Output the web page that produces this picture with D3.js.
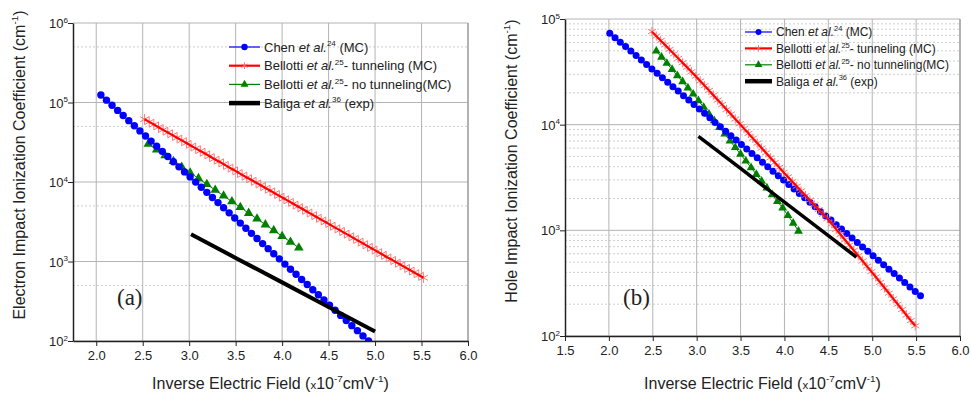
<!DOCTYPE html>
<html>
<head>
<meta charset="utf-8">
<script src="https://d3js.org/d3.v7.min.js"></script>
<style>
body{margin:0;background:#fff;}
svg text{font-family:"Liberation Sans",Arial,sans-serif;fill:#222;}
</style>
</head>
<body>
<svg id="chart" width="971" height="397"></svg>
<script>
// ---- panel (a): electrons ----
var chenA_x = [2.05,2.11,2.17,2.23,2.29,2.35,2.41,2.47,2.53,2.59,2.65,2.71,2.77,2.83,2.89,2.95,3.01,3.07,3.13,3.19,3.25,3.31,3.37,3.43,3.49,3.55,3.61,3.67,3.73,3.79,3.85,3.91,3.97,4.03,4.09,4.15,4.21,4.27,4.33,4.39,4.45,4.51,4.57,4.63,4.69,4.75,4.81,4.87,4.93]
var chenA_y = [124000,107000,92300,79600,68600,59100,51000,43900,37900,32700,28200,24300,20900,18000,15500,13400,11600,9970,8590,7410,6390,5510,4750,4090,3530,3040,2620,2260,1950,1680,1450,1250,1080,928,800,690,595,513,442,381,328,283,244,210,181,156,135,116,100]

var tunA_x = [2.52,2.57,2.62,2.67,2.72,2.77,2.82,2.87,2.92,2.97,3.02,3.07,3.12,3.17,3.22,3.27,3.32,3.37,3.42,3.47,3.52,3.57,3.62,3.67,3.72,3.77,3.82,3.87,3.92,3.97,4.02,4.07,4.12,4.17,4.22,4.27,4.32,4.37,4.42,4.47,4.52,4.57,4.62,4.67,4.72,4.77,4.82,4.87,4.92,4.97,5.02,5.07,5.12,5.17,5.22,5.27,5.32,5.37,5.42,5.47,5.52]
var tunA_y = [61500,57000,52800,48900,45300,42000,38900,36000,33400,30900,28600,26500,24600,22800,21100,19500,18100,16800,15500,14400,13300,12300,11400,10600,9810,9090,8420,7800,7230,6690,6200,5740,5320,4930,4570,4230,3920,3630,3360,3120,2890,2670,2480,2290,2130,1970,1820,1690,1560,1450,1340,1240,1150,1070,989,916,849,786,728,675,625]

var noTunA_x = [2.56,2.65,2.74,2.83,2.92,3.01,3.10,3.19,3.28,3.37,3.46,3.55,3.64,3.73,3.82,3.91,4.00,4.09,4.18]
var noTunA_y = [30100,25400,21500,18200,15400,13100,11100,9350,7910,6700,5670,4800,4060,3440,2910,2460,2080,1760,1490]

var baligaA_x = [3.02,3.5,4.0,4.5,5.0]
var baligaA_y = [2200,1110,546,268,132]

// ---- panel (b): holes ----
var chenB_x = [2.01,2.07,2.13,2.19,2.25,2.31,2.37,2.43,2.49,2.55,2.61,2.67,2.73,2.79,2.85,2.91,2.97,3.03,3.09,3.15,3.21,3.27,3.33,3.39,3.45,3.51,3.57,3.63,3.69,3.75,3.81,3.87,3.93,3.99,4.05,4.11,4.17,4.23,4.29,4.35,4.41,4.47,4.53,4.59,4.65,4.71,4.77,4.83,4.89,4.95,5.01,5.07,5.13,5.19,5.25,5.31,5.37,5.43,5.49,5.55]
var chenB_y = [73300,66500,60400,54800,49700,45100,41000,37200,33700,30600,27800,25200,22900,20800,18800,17100,15500,14100,12800,11600,10500,9560,8680,7870,7150,6490,5890,5340,4850,4400,3990,3630,3290,2990,2710,2460,2230,2030,1840,1670,1510,1370,1250,1130,1030,932,846,768,697,633,574,521,473,429,390,354,321,291,264,240]

var tunB_x = [2.49,2.54,2.59,2.64,2.69,2.74,2.79,2.84,2.89,2.94,2.99,3.04,3.09,3.14,3.19,3.24,3.29,3.34,3.39,3.44,3.49,3.54,3.59,3.64,3.69,3.74,3.79,3.84,3.89,3.94,3.99,4.04,4.09,4.14,4.19,4.24,4.29,4.34,4.39,4.44,4.49,4.54,4.59,4.64,4.69,4.74,4.79,4.84,4.89,4.94,4.99,5.04,5.09,5.14,5.19,5.24,5.29,5.34,5.39,5.44,5.49]
var tunB_y = [76000,68900,62500,56800,51500,46800,42400,38500,34900,31700,28700,25900,23400,21100,19000,17100,15500,13900,12600,11300,10200,9180,8260,7430,6680,6010,5410,4860,4380,3940,3540,3200,2890,2610,2360,2130,1930,1740,1570,1420,1290,1150,1020,912,813,724,646,575,513,457,407,362,322,286,254,225,200,178,158,140,125]

var noTunB_x = [2.54,2.60,2.66,2.72,2.78,2.84,2.90,2.96,3.02,3.08,3.14,3.20,3.26,3.32,3.38,3.44,3.50,3.56,3.62,3.68,3.74,3.80,3.86,3.92,3.98,4.04,4.10,4.16]
var noTunB_y = [49800,43600,38100,33300,29100,25500,22300,19500,16900,14600,12600,10900,9420,8150,7030,6080,5250,4530,3920,3380,2920,2520,2180,1880,1630,1380,1170,984]

var baligaB_x = [3.02,3.5,4.0,4.5,4.82]
var baligaB_y = [7760,3850,1850,889,557]

// ticks
var xTicksA = [2.0,2.5,3.0,3.5,4.0,4.5,5.0,5.5,6.0]
var xTicksB = [1.5,2.0,2.5,3.0,3.5,4.0,4.5,5.0,5.5,6.0]
var yExpA = [2,3,4,5,6]
var yExpB = [2,3,4,5]

var legendNames = [
  [{t:"Chen "},{t:"et al.",i:true},{t:"24",sup:true},{t:" (MC)"}],
  [{t:"Bellotti "},{t:"et al.",i:true},{t:"25",sup:true},{t:"- tunneling (MC)"}],
  [{t:"Bellotti "},{t:"et al.",i:true},{t:"25",sup:true},{t:"- no tunneling(MC)"}],
  [{t:"Baliga "},{t:"et al.",i:true},{t:"36",sup:true},{t:" (exp)"}]
]

var svg = d3.select("#chart")
svg.append("rect").attr("width", 971).attr("height", 397).attr("fill", "#fff")

function zip(xs, ys){
  return xs.map(function(d, i){ return [d, ys[i]] })
}

// text with italic / superscript pieces
function richText(sel, parts, size){
  var shift = 0
  parts.forEach(function(p){
    var want = p.sup ? -size*0.42 : 0
    var t = sel.append("tspan").text(p.t)
    if (want - shift !== 0) t.attr("dy", want - shift)
    shift = want
    if (p.i) t.attr("font-style", "italic")
    if (p.sup) t.attr("font-size", size*0.62)
    if (p.small) t.attr("font-size", size*0.72)
  })
}

function marker(g, type, size, color, cx, cy){
  if (type === "circle"){
    g.append("circle").attr("cx", cx).attr("cy", cy).attr("r", size).attr("fill", color)
  } else if (type === "star"){
    g.append("path").attr("transform", "translate(" + cx + "," + cy + ")")
     .attr("d", d3.symbol().type(d3.symbolAsterisk).size(size)())
     .attr("fill", "none").attr("stroke", "#ff6a6a").attr("stroke-width", 0.9)
  } else if (type === "tri"){
    g.append("path").attr("transform", "translate(" + cx + "," + cy + ")")
     .attr("d", d3.symbol().type(d3.symbolTriangle).size(size)())
     .attr("fill", color)
  }
}

function drawPanel(p){
  var g = svg.append("g")
  var x = d3.scaleLinear().domain(p.xDomain).range([p.left, p.right])
  var y = d3.scaleLog().domain(p.yDomain).range([p.bottom, p.top])

  var decades = p.yExp.map(function(e){ return Math.pow(10, e) })
  var minor = []
  decades.slice(0, -1).forEach(function(d){
    p.minorMult.forEach(function(m){ minor.push(d*m) })
  })

  // grid
  g.selectAll(".gmin").data(minor).enter().append("line")
   .attr("x1", p.left).attr("x2", p.right)
   .attr("y1", function(d){ return y(d) }).attr("y2", function(d){ return y(d) })
   .attr("stroke", "#cfcfcf").attr("stroke-width", 1).attr("stroke-dasharray", "2,2")
  g.selectAll(".gmaj").data(decades).enter().append("line")
   .attr("x1", p.left).attr("x2", p.right)
   .attr("y1", function(d){ return y(d) }).attr("y2", function(d){ return y(d) })
   .attr("stroke", "#b4b4b4").attr("stroke-width", 1)
  g.selectAll(".gx").data(p.xTicks.filter(function(d){ return d > p.xDomain[0] })).enter().append("line")
   .attr("x1", function(d){ return x(d) }).attr("x2", function(d){ return x(d) })
   .attr("y1", p.top).attr("y2", p.bottom)
   .attr("stroke", function(d){ return d === p.xDomain[1] ? "#999" : "#b4b4b4" })
   .attr("stroke-width", function(d){ return d === p.xDomain[1] ? 1.5 : 1 })

  // series
  var clipId = "clip" + p.id
  svg.append("clipPath").attr("id", clipId).append("rect")
     .attr("x", p.left).attr("y", p.top).attr("width", p.right - p.left).attr("height", p.bottom - p.top)
  var sg = g.append("g").attr("clip-path", "url(#" + clipId + ")")
  var line = d3.line().x(function(d){ return x(d[0]) }).y(function(d){ return y(d[1]) })
  p.series.forEach(function(s){
    var pts = zip(s.x, s.y)
    var lg = sg.append("g")
    if (s.marker === "star"){
      pts.forEach(function(d){ marker(lg, s.marker, s.msize, s.color, x(d[0]), y(d[1])) })
      lg.append("path").attr("d", line(pts)).attr("fill", "none").attr("stroke", s.color).attr("stroke-width", s.lw)
    } else {
      lg.append("path").attr("d", line(pts)).attr("fill", "none").attr("stroke", s.color).attr("stroke-width", s.lw)
      pts.forEach(function(d){ marker(lg, s.marker, s.msize, s.color, x(d[0]), y(d[1])) })
    }
  })

  // axes
  var minorX = []
  for (var i = 0; i < p.xTicks.length - 1; i++) minorX.push((p.xTicks[i] + p.xTicks[i+1]) / 2)
  if (p.xDomain[0] < p.xTicks[0]) minorX.push(p.xDomain[0])
  var ax = g.append("g").attr("transform", "translate(0," + p.bottom + ")")
  ax.call(d3.axisBottom(x).tickValues(minorX).tickSize(3).tickFormat("").tickSizeOuter(0))
  ax.call(d3.axisBottom(x).tickValues(p.xTicks).tickSize(5).tickPadding(5).tickFormat(d3.format(".1f")).tickSizeOuter(0))
  ax.selectAll("text").attr("font-size", 13).attr("font-family", "Liberation Sans, Arial, sans-serif").attr("fill", "#222")
  ax.selectAll("path,line").attr("stroke", "#222")
  ax.select(".domain").attr("stroke-width", 1.5)

  var ay = g.append("g").attr("transform", "translate(" + p.left + ",0)")
  ay.call(d3.axisLeft(y).tickValues(minor).tickSize(3).tickFormat("").tickSizeOuter(0))
  ay.call(d3.axisLeft(y).tickValues(decades).tickSize(5).tickFormat("").tickSizeOuter(0))
  ay.selectAll("path,line").attr("stroke", "#222")
  ay.select(".domain").attr("stroke-width", 1.5)

  decades.forEach(function(d, i){
    var t = g.append("text").attr("x", p.left - 5).attr("y", y(d) + 5)
     .attr("text-anchor", "end").attr("font-size", 13)
    richText(t, [{t:"10"},{t:String(p.yExp[i]),sup:true}], 13)
  })

  // axis titles
  var xt = g.append("text").attr("x", (p.left + p.right)/2).attr("y", 389)
    .attr("text-anchor", "middle").attr("font-size", 16)
  richText(xt, [{t:"Inverse Electric Field ("},{t:"x",small:true},{t:"10"},{t:"-7",sup:true},{t:"cmV"},{t:"-1",sup:true},{t:")"}], 16)

  var yt = g.append("text").attr("transform", "translate(" + p.ytX + "," + p.ytY + ") rotate(-90)")
    .attr("text-anchor", "middle").attr("font-size", 16)
  richText(yt, [{t:p.yTitle + " (cm"},{t:"-1",sup:true},{t:")"}], 16)

  // panel tag
  g.append("text").attr("x", p.tagX).attr("y", 305).attr("font-size", 23)
   .style("font-family", "Liberation Serif, Times New Roman, serif").text(p.tag)

  // legend
  var lg = g.append("g")
  p.legend.forEach(function(s, i){
    var yy = p.legY + i*p.legStep
    lg.append("line").attr("x1", p.legX).attr("x2", p.legX + p.legLen).attr("y1", yy).attr("y2", yy)
      .attr("stroke", s.color).attr("stroke-width", s.llw)
    marker(lg, s.marker, s.lmsize, s.color, p.legX + p.legLen/2, yy)
    var t = lg.append("text").attr("x", p.legX + p.legLen + 4).attr("y", yy + p.legFont*0.36)
      .attr("font-size", p.legFont)
    richText(t, legendNames[i], p.legFont)
  })
}

var styleA = {
  chen: {x:chenA_x, y:chenA_y, color:"#0000ff", lw:1, marker:"circle", msize:3.7, llw:1.2, lmsize:3.2},
  tun: {x:tunA_x, y:tunA_y, color:"#ff0000", lw:2.2, marker:"star", msize:80, llw:2.2, lmsize:34},
  noTun: {x:noTunA_x, y:noTunA_y, color:"#008000", lw:1, marker:"tri", msize:40, llw:1.2, lmsize:28},
  bal: {x:baligaA_x, y:baligaA_y, color:"#000000", lw:4, marker:null, msize:0, llw:4.5, lmsize:0}
}
var styleB = {
  chen: {x:chenB_x, y:chenB_y, color:"#0000ff", lw:1, marker:"circle", msize:3.5, llw:1.2, lmsize:3},
  tun: {x:tunB_x, y:tunB_y, color:"#ff0000", lw:2, marker:"star", msize:60, llw:2.2, lmsize:28},
  noTun: {x:noTunB_x, y:noTunB_y, color:"#008000", lw:1, marker:"tri", msize:34, llw:1.2, lmsize:26},
  bal: {x:baligaB_x, y:baligaB_y, color:"#000000", lw:3.5, marker:null, msize:0, llw:4.5, lmsize:0}
}

drawPanel({
  id: "a", left: 73, right: 468, top: 23, bottom: 341,
  xDomain: [1.75, 6.0], yDomain: [100, 1e6], xTicks: xTicksA, yExp: yExpA, minorMult: [5],
  yTitle: "Electron Impact Ionization Coefficient", ytX: 25, ytY: 165,
  tag: "(a)", tagX: 117,
  series: [styleA.noTun, styleA.chen, styleA.tun, styleA.bal],
  legend: [styleA.chen, styleA.tun, styleA.noTun, styleA.bal],
  legX: 229, legLen: 31, legY: 47, legStep: 18.7, legFont: 13
})

drawPanel({
  id: "b", left: 565, right: 960, top: 19, bottom: 336,
  xDomain: [1.5, 6.0], yDomain: [100, 1e5], xTicks: xTicksB, yExp: yExpB, minorMult: [2,3,4,5,6,7,8,9],
  yTitle: "Hole Impact Ionization Coefficient", ytX: 517, ytY: 161,
  tag: "(b)", tagX: 623,
  series: [styleB.noTun, styleB.chen, styleB.tun, styleB.bal],
  legend: [styleB.chen, styleB.tun, styleB.noTun, styleB.bal],
  legX: 745, legLen: 27, legY: 32, legStep: 16.4, legFont: 12
})
</script>
</body>
</html>
